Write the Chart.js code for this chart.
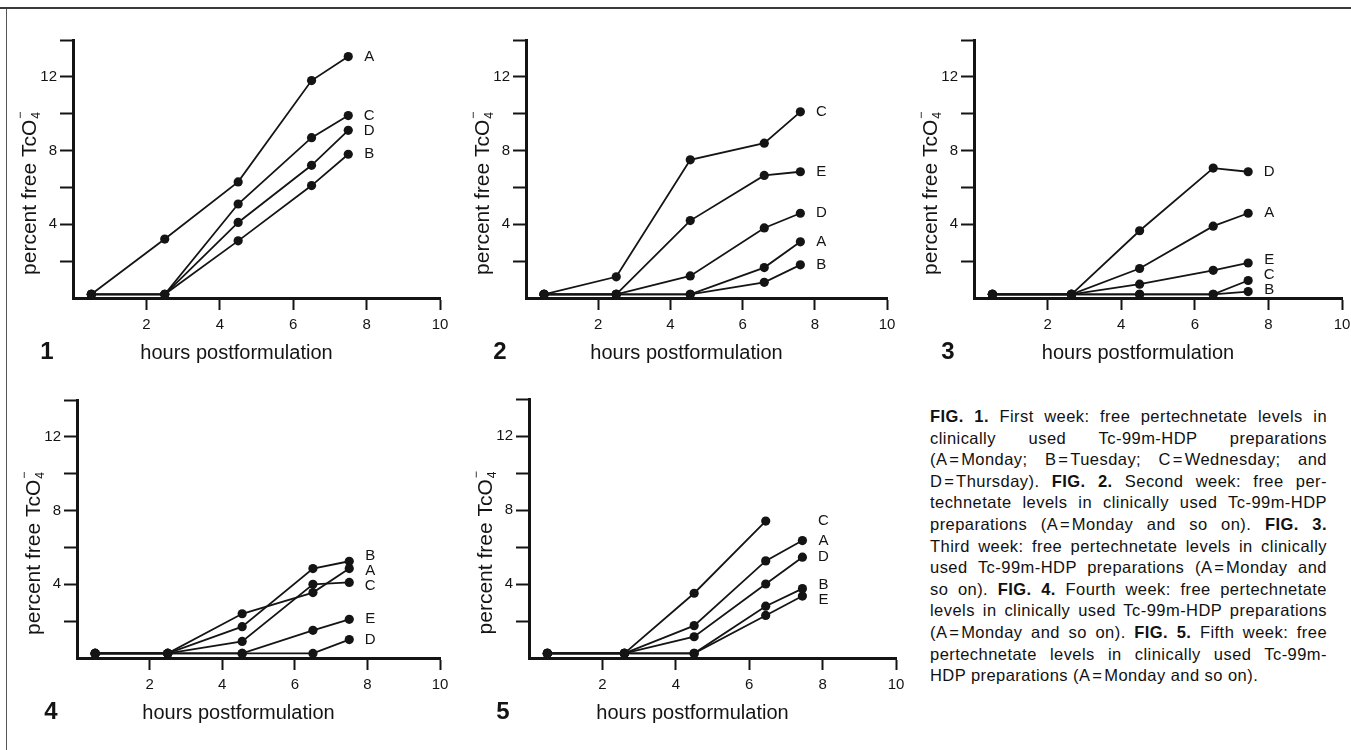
<!DOCTYPE html>
<html>
<head>
<meta charset="utf-8">
<script src="https://cdn.jsdelivr.net/npm/chart.js@4.4.1/dist/chart.umd.min.js"></script>
<style>
  html, body { margin: 0; padding: 0; background: #fff; }
  body { width: 1351px; height: 750px; position: relative; overflow: hidden; }
  canvas { position: absolute; }
  .rule-top { position: absolute; left: 0; top: 7px; width: 1351px; height: 2px; background: #3a3a3a; }
  .rule-left { position: absolute; left: 6px; top: 9px; width: 1px; height: 741px; background: #555; }
  #caption {
    position: absolute; left: 930px; top: 406px; width: 397px;
    font-family: "Liberation Sans", Arial, sans-serif; font-size: 16.5px;
    line-height: 21.6px; color: #111; letter-spacing: 0.45px;
  }
  #caption div { white-space: nowrap; text-align: justify; text-align-last: justify; }
  #caption div.last { text-align-last: left; }
</style>
</head>
<body>
<div class="rule-top"></div>
<div class="rule-left"></div>

<canvas id="fig1"></canvas>
<canvas id="fig2"></canvas>
<canvas id="fig3"></canvas>
<canvas id="fig4"></canvas>
<canvas id="fig5"></canvas>

<div id="caption">
  <div><b>FIG. 1.</b> First week: free pertechnetate levels in</div>
  <div>clinically used Tc-99m-HDP preparations</div>
  <div>(A&#8202;=&#8202;Monday; B&#8202;=&#8202;Tuesday; C&#8202;=&#8202;Wednesday; and</div>
  <div>D&#8202;=&#8202;Thursday). <b>FIG. 2.</b> Second week: free per-</div>
  <div>technetate levels in clinically used Tc-99m-HDP</div>
  <div>preparations (A&#8202;=&#8202;Monday and so on). <b>FIG. 3.</b></div>
  <div>Third week: free pertechnetate levels in clinically</div>
  <div>used Tc-99m-HDP preparations (A&#8202;=&#8202;Monday and</div>
  <div>so on). <b>FIG. 4.</b> Fourth week: free pertechnetate</div>
  <div>levels in clinically used Tc-99m-HDP preparations</div>
  <div>(A&#8202;=&#8202;Monday and so on). <b>FIG. 5.</b> Fifth week: free</div>
  <div>pertechnetate levels in clinically used Tc-99m-</div>
  <div class="last">HDP preparations (A&#8202;=&#8202;Monday and so on).</div>
</div>

<script>
// ---- data (hours postformulation / percent free TcO4-) ----
const xTickLabels = ['', '2', '4', '6', '8', '10'];            // 0..10 step 2
const yTickLabels = ['', '', '4', '', '8', '', '12', ''];      // 0..14 step 2

// week 1
const hours1 = [0.5, 2.5, 4.5, 6.5, 7.5];
const week1A = [0.2, 3.2, 6.3, 11.8, 13.1];
const week1B = [0.2, 0.2, 3.1, 6.1, 7.8];
const week1C = [0.2, 0.2, 5.1, 8.7, 9.9];
const week1D = [0.2, 0.2, 4.1, 7.2, 9.1];

// week 2
const hours2 = [0.5, 2.5, 4.55, 6.6, 7.6];
const week2A = [0.2, 0.2, 0.2, 1.65, 3.05];
const week2B = [0.2, 0.2, 0.2, 0.85, 1.8];
const week2C = [0.2, 1.15, 7.5, 8.4, 10.1];
const week2D = [0.2, 0.2, 1.2, 3.8, 4.6];
const week2E = [0.2, 0.2, 4.2, 6.65, 6.85];

// week 3
const hours3 = [0.5, 2.65, 4.5, 6.5, 7.45];
const week3A = [0.2, 0.2, 1.6, 3.9, 4.6];
const week3B = [0.2, 0.2, 0.2, 0.2, 0.35];
const week3C = [0.2, 0.2, 0.2, 0.2, 0.95];
const week3D = [0.2, 0.2, 3.65, 7.05, 6.85];
const week3E = [0.2, 0.2, 0.75, 1.5, 1.9];

// week 4
const hours4 = [0.5, 2.5, 4.55, 6.5, 7.5];
const week4A = [0.25, 0.25, 2.4, 3.55, 4.85];
const week4B = [0.25, 0.25, 1.7, 4.85, 5.25];
const week4C = [0.25, 0.25, 0.9, 4.0, 4.1];
const week4D = [0.25, 0.25, 0.25, 0.25, 1.0];
const week4E = [0.25, 0.25, 0.25, 1.5, 2.1];

// week 5 (C stops at 6.5 h)
const hours5 = [0.5, 2.6, 4.5, 6.45, 7.45];
const week5A = [0.25, 0.25, 1.75, 5.25, 6.35];
const week5B = [0.25, 0.25, 0.25, 2.8, 3.75];
const week5C = [0.25, 0.25, 3.5, 7.4];
const week5D = [0.25, 0.25, 1.15, 4.0, 5.45];
const week5E = [0.25, 0.25, 0.25, 2.3, 3.35];

// ---- layout ----
const FONT = '"Liberation Sans", Arial, "DejaVu Sans", sans-serif';
const INK = '#141414';
const Y_AXIS_W = 62, X_AXIS_H = 75, PAD_TOP = 15, PAD_RIGHT = 25;

// text drawn round each panel: axis titles, figure number, day letters
const panelText = {
    id: 'panelText',
    afterDraw(chart, args, opts) {
        const ctx = chart.ctx;
        const a = chart.chartArea;
        const xs = chart.scales.x;
        ctx.save();
        ctx.fillStyle = INK;

        // x title
        ctx.font = '20px ' + FONT;
        ctx.textAlign = 'center';
        ctx.textBaseline = 'middle';
        ctx.fillText('hours postformulation', (a.left + a.right) / 2 - 20, a.bottom + 55);

        // figure number
        ctx.font = 'bold 24px ' + FONT;
        ctx.fillText(opts.num, a.left - 26, a.bottom + 54);

        // y title, with stacked sub/superscript on TcO4-
        ctx.save();
        ctx.translate(a.left - 44, (a.top + a.bottom) / 2 + 25);
        ctx.rotate(-Math.PI / 2);
        ctx.textAlign = 'left';
        ctx.textBaseline = 'alphabetic';
        ctx.font = '21px ' + FONT;
        const main = 'percent free TcO';
        const wMain = ctx.measureText(main).width;
        ctx.font = '12px ' + FONT;
        const wSub = ctx.measureText('4').width;
        const x0 = -(wMain + wSub) / 2;
        ctx.font = '21px ' + FONT;
        ctx.fillText(main, x0, 7);
        ctx.font = '12px ' + FONT;
        ctx.fillText('4', x0 + wMain + 1, 11);
        ctx.fillText('\u2212', x0 + wMain + 1, -5);
        ctx.restore();

        // day letters beside the last points, nudged apart when crowded
        let lastX = 0;
        chart.data.datasets.forEach(ds => {
            lastX = Math.max(lastX, ds.data[ds.data.length - 1].x);
        });
        const lx = xs.getPixelForValue(lastX) + 21;
        const items = chart.data.datasets.map((ds, i) => {
            const pts = chart.getDatasetMeta(i).data;
            return { text: ds.label, y0: pts[pts.length - 1].y, y: pts[pts.length - 1].y };
        }).sort((p, q) => p.y0 - q.y0);
        spreadLabels(items, 15, a.bottom - 8);
        ctx.font = '15px ' + FONT;
        ctx.textAlign = 'center';
        ctx.textBaseline = 'middle';
        items.forEach(it => ctx.fillText(it.text, lx, it.y));
        ctx.restore();
    }
};

function spreadLabels(items, gap, maxY) {
    // push down, then recentre each crowded group on its own points
    let group = [items[0]];
    const groups = [group];
    for (let i = 1; i < items.length; i++) {
        if (items[i].y0 < items[i - 1].y + gap) {
            items[i].y = items[i - 1].y + gap;
            group.push(items[i]);
        } else {
            group = [items[i]];
            groups.push(group);
        }
    }
    groups.forEach(g => {
        if (g.length < 2) return;
        const shift = g.reduce((s, it) => s + it.y0 - it.y, 0) / g.length;
        g.forEach(it => { it.y += shift; });
    });
    // keep letters clear of the x axis
    for (let i = items.length - 1; i >= 0; i--) {
        const limit = i === items.length - 1 ? maxY : items[i + 1].y - gap;
        items[i].y = Math.min(items[i].y, limit);
    }
}

function series(label, hours, values) {
    return {
        label: label,
        data: values.map((v, i) => ({ x: hours[i], y: v })),
        borderColor: INK,
        backgroundColor: INK,
        borderWidth: 1.8,
        pointRadius: 4.6,
        pointBorderWidth: 0,
        pointBackgroundColor: INK,
        tension: 0,
        clip: false
    };
}

function makePanel(id, num, area, datasets) {
    const canvas = document.getElementById(id);
    const w = area.right - area.left + Y_AXIS_W + PAD_RIGHT;
    const h = area.bottom - area.top + PAD_TOP + X_AXIS_H;
    canvas.width = w;
    canvas.height = h;
    canvas.style.left = (area.left - Y_AXIS_W) + 'px';
    canvas.style.top = (area.top - PAD_TOP) + 'px';

    const hideZero = c => (c.tick && c.tick.value === 0) ? 'rgba(0,0,0,0)' : INK;

    return new Chart(canvas.getContext('2d'), {
        type: 'line',
        data: { datasets: datasets },
        options: {
            responsive: false,
            animation: false,
            devicePixelRatio: 1,
            layout: { padding: { left: 0, top: PAD_TOP, right: PAD_RIGHT, bottom: 0 } },
            plugins: {
                legend: { display: false },
                tooltip: { enabled: false },
                panelText: { num: num }
            },
            scales: {
                x: {
                    type: 'linear',
                    min: 0,
                    max: 10,
                    afterFit: s => { s.height = X_AXIS_H; },
                    border: { display: true, color: INK, width: 3 },
                    grid: {
                        drawOnChartArea: false,
                        drawTicks: true,
                        tickLength: 12,
                        tickWidth: 2,
                        tickColor: hideZero
                    },
                    ticks: {
                        stepSize: 2,
                        autoSkip: false,
                        maxRotation: 0,
                        padding: 6,
                        color: INK,
                        font: { family: FONT, size: 15 },
                        callback: (v, i) => xTickLabels[i]
                    }
                },
                y: {
                    type: 'linear',
                    min: 0,
                    max: 14,
                    afterFit: s => { s.width = Y_AXIS_W; },
                    border: { display: true, color: INK, width: 3 },
                    grid: {
                        drawOnChartArea: false,
                        drawTicks: true,
                        tickLength: 13,
                        tickWidth: 2,
                        tickColor: hideZero
                    },
                    ticks: {
                        stepSize: 2,
                        autoSkip: false,
                        padding: 3,
                        color: INK,
                        font: { family: FONT, size: 15 },
                        callback: (v, i) => yTickLabels[i]
                    }
                }
            }
        },
        plugins: [panelText]
    });
}

makePanel('fig1', '1', { left: 73, right: 440, top: 40, bottom: 298 }, [
    series('A', hours1, week1A),
    series('B', hours1, week1B),
    series('C', hours1, week1C),
    series('D', hours1, week1D)
]);

makePanel('fig2', '2', { left: 526, right: 887, top: 40, bottom: 298 }, [
    series('A', hours2, week2A),
    series('B', hours2, week2B),
    series('C', hours2, week2C),
    series('D', hours2, week2D),
    series('E', hours2, week2E)
]);

makePanel('fig3', '3', { left: 974, right: 1342, top: 40, bottom: 298 }, [
    series('A', hours3, week3A),
    series('B', hours3, week3B),
    series('C', hours3, week3C),
    series('D', hours3, week3D),
    series('E', hours3, week3E)
]);

makePanel('fig4', '4', { left: 77, right: 440, top: 400, bottom: 658 }, [
    series('A', hours4, week4A),
    series('B', hours4, week4B),
    series('C', hours4, week4C),
    series('D', hours4, week4D),
    series('E', hours4, week4E)
]);

makePanel('fig5', '5', { left: 529, right: 896, top: 399, bottom: 658 }, [
    series('A', hours5, week5A),
    series('B', hours5, week5B),
    series('C', hours5, week5C),
    series('D', hours5, week5D),
    series('E', hours5, week5E)
]);
</script>
</body>
</html>
